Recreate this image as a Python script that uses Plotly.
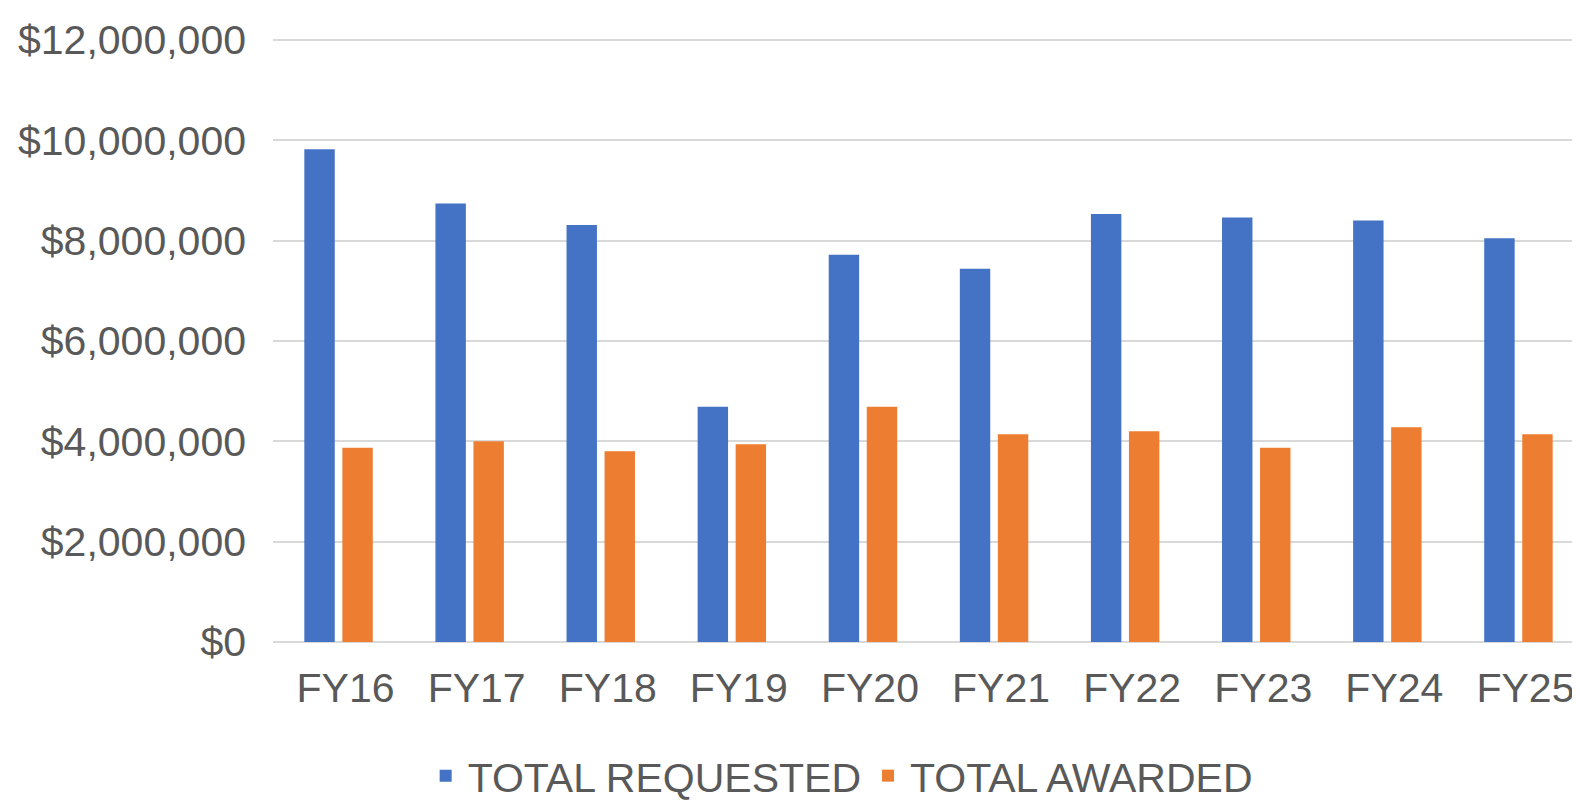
import plotly.graph_objects as go

categories = ["FY16", "FY17", "FY18", "FY19", "FY20", "FY21", "FY22", "FY23", "FY24", "FY25"]
total_requested = [9820000, 8740000, 8310000, 4690000, 7720000, 7440000, 8530000, 8460000, 8400000, 8050000]
total_awarded = [3870000, 4000000, 3800000, 3940000, 4690000, 4140000, 4200000, 3870000, 4280000, 4140000]
y_ticks = [0, 2000000, 4000000, 6000000, 8000000, 10000000, 12000000]
y_tick_labels = ["$0", "$2,000,000", "$4,000,000", "$6,000,000", "$8,000,000", "$10,000,000", "$12,000,000"]

font_family = "Liberation Sans, Arial, sans-serif"
text_color = "#595959"

fig = go.Figure()
fig.add_trace(go.Bar(x=categories, y=total_requested, name="TOTAL REQUESTED",
                     marker=dict(color="#4472C4", line=dict(width=0))))
fig.add_trace(go.Bar(x=categories, y=total_awarded, name="TOTAL AWARDED",
                     marker=dict(color="#ED7D31", line=dict(width=0))))

fig.update_layout(
    width=1580, height=800,
    margin=dict(l=265, r=4, t=28, b=166, autoexpand=False),
    paper_bgcolor="white", plot_bgcolor="white",
    barmode="group", bargap=0.42, bargroupgap=0.2,
    font=dict(family=font_family, color=text_color, size=41),
    showlegend=True,
    legend=dict(orientation="h", xref="container", yref="container",
                x=0.527, xanchor="center", y=0.04, yanchor="middle",
                font=dict(size=41, color=text_color), itemwidth=34,
                bgcolor="rgba(0,0,0,0)"),
    xaxis=dict(type="category", range=[-0.5, 9.5], showgrid=False, showline=False,
               automargin=False,
               ticks="", tickfont=dict(size=41, color=text_color),
               ticklabelstandoff=18, ticklabelshift=7),
    yaxis=dict(range=[0, 12080000], tickvals=y_ticks, ticktext=y_tick_labels,
               automargin=False,
               showgrid=True, gridcolor="#d9d9d9", gridwidth=2,
               zeroline=True, zerolinecolor="#d9d9d9", zerolinewidth=2,
               showline=False, ticks="", tickfont=dict(size=41, color=text_color),
               ticklabelstandoff=26),
)

fig.write_html("out.html")
